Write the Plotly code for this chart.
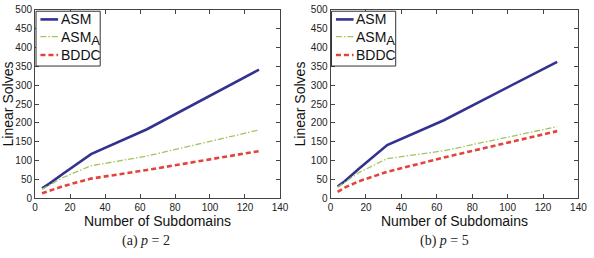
import plotly.graph_objects as go

W, H = 594, 258

subdomains = [4, 8, 16, 32, 64, 128]
series_names = ["ASM", "ASM<sub><span style='font-size:13px'>A</span></sub>", "BDDC"]

# p = 2
asm_p2 = [26, 38, 65, 117, 183, 341]
asma_p2 = [24, 34, 55, 86, 112, 181]
bddc_p2 = [13, 20, 32, 52, 75, 125]

# p = 5
asm_p5 = [31, 45, 78, 141, 207, 362]
asma_p5 = [29, 42, 68, 105, 126, 190]
bddc_p5 = [17, 28, 45, 70, 108, 178]

x_ticks = [0, 20, 40, 60, 80, 100, 120, 140]
y_ticks = [0, 50, 100, 150, 200, 250, 300, 350, 400, 450, 500]
captions = ["(a) <i>p</i> = 2", "(b) <i>p</i> = 5"]

colors = ["#33338f", "#a3c45e", "#e4433a"]
widths = [2.6, 1.3, 2.6]
dashes = ["solid", "6px,2px,1.5px,2px", "5px,3px"]

def px(x):
    return x / W

def py(y):
    return 1 - y / H

panels = [
    dict(left=32.7, right=282.7, data=[asm_p2, asma_p2, bddc_p2], xa="x", ya="y", cap=146),
    dict(left=334.3, right=587.3, data=[asm_p5, asma_p5, bddc_p5], xa="x2", ya="y2", cap=451),
]
top, bottom = 5.0, 201.0

fig = go.Figure()
shapes = []
annotations = []

for i, p in enumerate(panels):
    for j, vals in enumerate(p["data"]):
        fig.add_trace(go.Scatter(
            x=subdomains, y=vals, mode="lines", name=series_names[j],
            line=dict(color=colors[j], width=widths[j], dash=dashes[j]),
            xaxis=p["xa"], yaxis=p["ya"], showlegend=False,
        ))
    # legend box
    L = p["left"]
    bx0, bx1 = L + 1.0, L + 66.5
    by0, by1 = 6.5, 63.5
    shapes.append(dict(type="rect", xref="paper", yref="paper",
                       x0=px(bx0), x1=px(bx1), y0=py(by1), y1=py(by0),
                       line=dict(color="#333", width=1), fillcolor="white", layer="above"))
    ys = [15, 33, 52]
    for j in range(3):
        shapes.append(dict(type="line", xref="paper", yref="paper",
                           x0=px(L + 5.5), x1=px(L + 23.5), y0=py(ys[j]), y1=py(ys[j]),
                           line=dict(color=colors[j], width=widths[j], dash=dashes[j]), layer="above"))
        annotations.append(dict(text=series_names[j], xref="paper", yref="paper",
                                x=px(L + 24), y=py(ys[j] + (1.5 if j == 1 else 0)),
                                xanchor="left", yanchor="middle", showarrow=False,
                                font=dict(family="Liberation Sans, Arial", size=14, color="#111")))
    # caption
    annotations.append(dict(text=captions[i], xref="paper", yref="paper",
                            x=px(p["cap"]), y=py(246), xanchor="center", yanchor="middle",
                            showarrow=False,
                            font=dict(family="Liberation Serif, DejaVu Serif", size=14, color="#222")))

axis_common = dict(showline=True, linecolor="#444", linewidth=1, mirror="ticks",
                   ticks="inside", ticklen=4, tickwidth=1, tickcolor="#444",
                   showgrid=False, zeroline=False, ticklabeloverflow="allow",
                   tickfont=dict(family="Liberation Sans, Arial", size=10, color="#222"))
title_font = dict(family="Liberation Sans, Arial", size=14, color="#111")

fig.update_layout(
    width=W, height=H, margin=dict(l=0, r=0, t=0, b=0),
    paper_bgcolor="white", plot_bgcolor="white",
    shapes=shapes, annotations=annotations,
    xaxis=dict(domain=[px(panels[0]["left"]), px(panels[0]["right"])], range=[0, 140],
               tickvals=x_ticks, anchor="y",
               title=dict(text="Number of Subdomains", font=title_font, standoff=3), **axis_common),
    yaxis=dict(domain=[py(bottom), py(top)], range=[0, 500], tickvals=y_ticks, anchor="x",
               title=dict(text="Linear Solves", font=title_font, standoff=1), **axis_common),
    xaxis2=dict(domain=[px(panels[1]["left"]), px(panels[1]["right"])], range=[0, 140],
                tickvals=x_ticks, anchor="y2",
                title=dict(text="Number of Subdomains", font=title_font, standoff=3), **axis_common),
    yaxis2=dict(domain=[py(bottom), py(top)], range=[0, 500], tickvals=y_ticks, anchor="x2",
                title=dict(text="Linear Solves", font=title_font, standoff=1), **axis_common),
)

fig.write_html("out.html")
